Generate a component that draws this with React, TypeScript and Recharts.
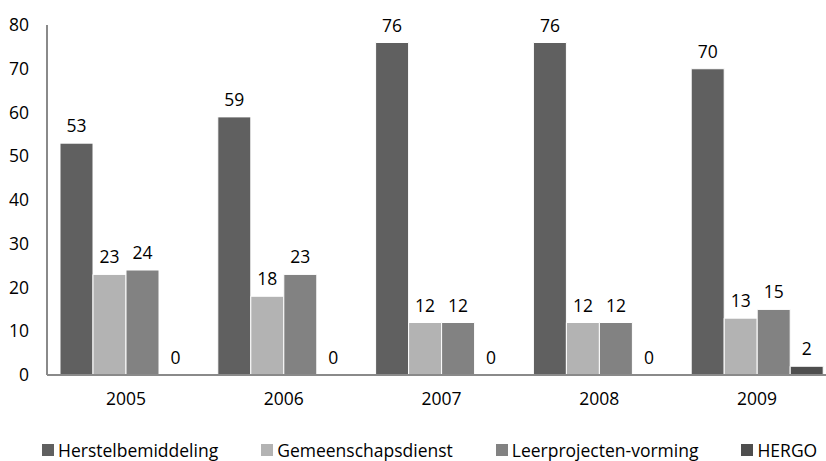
import { Bar, BarChart, LabelList, XAxis, YAxis } from "recharts";

const years = ["2005", "2006", "2007", "2008", "2009"];
const herstelbemiddeling = [53, 59, 76, 76, 70];
const gemeenschapsdienst = [23, 18, 12, 12, 13];
const leerprojecten = [24, 23, 12, 12, 15];
const hergo = [0, 0, 0, 0, 2];
const yTicks = [0, 10, 20, 30, 40, 50, 60, 70, 80];

const series = [
  { key: "herstel", name: "Herstelbemiddeling", color: "#606060" },
  { key: "gemeenschap", name: "Gemeenschapsdienst", color: "#b3b3b3" },
  { key: "leer", name: "Leerprojecten-vorming", color: "#828282" },
  { key: "hergo", name: "HERGO", color: "#4e4e4e" },
];

const data = years.map((year, i) => ({
  year,
  herstel: herstelbemiddeling[i],
  gemeenschap: gemeenschapsdienst[i],
  leer: leerprojecten[i],
  hergo: hergo[i],
}));

const font = "'Open Sans', sans-serif";
const fs = 17.5;
const tick = { fill: "#000", fontSize: fs, fontFamily: font };

// zero bars get a hairline so their "0" label still renders
const tinyZero = (v: any) => (v === 0 ? 0.2 : 0);

export default function App() {
  return (
    <div style={{ position: "fixed", left: 0, top: 0, width: 826, height: 461, overflow: "hidden", background: "#fff" }}>
      <BarChart
        width={860}
        height={461}
        data={data}
        margin={{ top: 25, right: 24, left: 0, bottom: 56 }}
        barCategoryGap={13}
        barGap={0}
      >
        <XAxis
          dataKey="year"
          tick={tick}
          tickLine={false}
          tickSize={0}
          tickMargin={18}
          height={30}
          axisLine={{ stroke: "#8a8a8a", strokeWidth: 2 }}
        />
        <YAxis
          domain={[0, 80]}
          ticks={yTicks}
          tick={tick}
          tickLine={false}
          tickSize={0}
          tickMargin={18}
          width={47}
          axisLine={{ stroke: "#8a8a8a", strokeWidth: 2 }}
        />
        {series.map((s) => (
          <Bar
            key={s.key}
            dataKey={s.key}
            name={s.name}
            fill={s.color}
            stroke="#fff"
            strokeWidth={1}
            minPointSize={tinyZero}
            isAnimationActive={false}
          >
            <LabelList dataKey={s.key} position="top" offset={11} fill="#000" fontSize={fs} fontFamily={font} />
          </Bar>
        ))}
      </BarChart>
      <div
        style={{
          position: "absolute",
          left: 42,
          top: 439,
          display: "flex",
          gap: 43,
          fontFamily: font,
          fontSize: fs,
          color: "#000",
          lineHeight: "22px",
          whiteSpace: "nowrap",
        }}
      >
        {series.map((s) => (
          <div key={s.key} style={{ display: "flex", alignItems: "center" }}>
            <span style={{ width: 12, height: 12, background: s.color, marginRight: 4, display: "inline-block" }} />
            {s.name}
          </div>
        ))}
      </div>
    </div>
  );
}
